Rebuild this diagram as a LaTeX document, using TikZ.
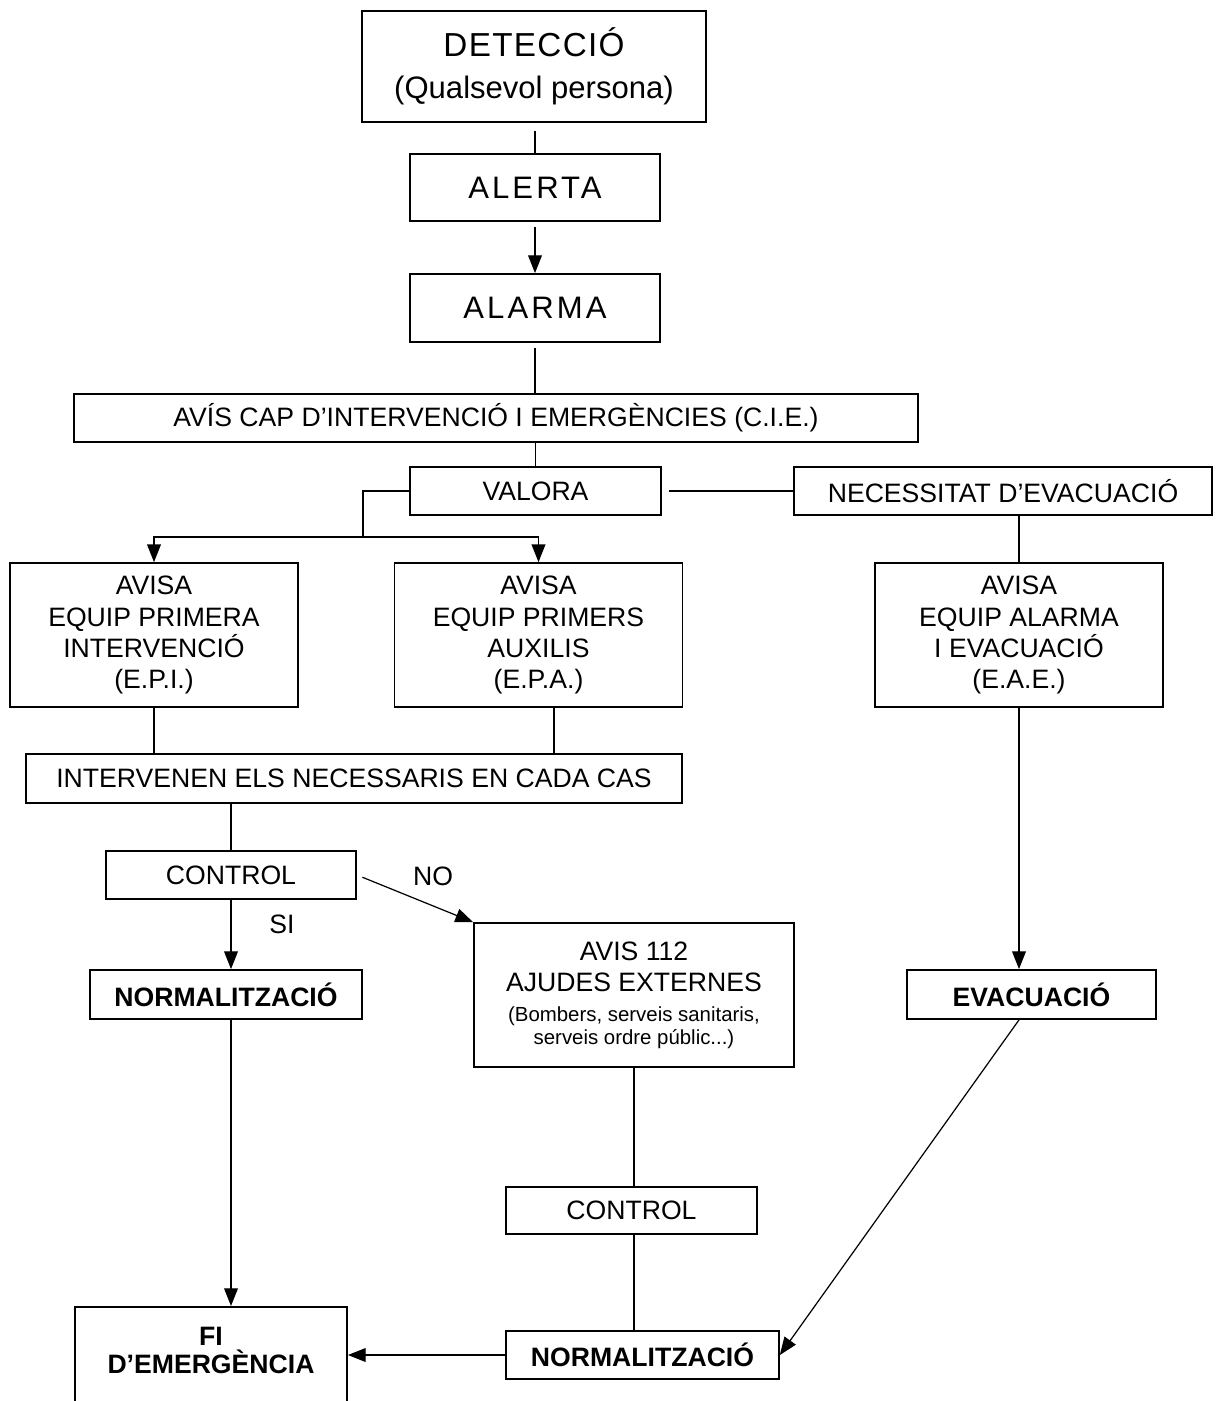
\documentclass[tikz,border=0pt]{standalone}
\usepackage{fontspec}
\setmainfont{Liberation Sans}
\newfontfamily\ampla[LetterSpace=10]{Liberation Sans}
\newfontfamily\amplet[LetterSpace=4]{Liberation Sans}
\usetikzlibrary{arrows.meta}

\begin{document}
\begin{tikzpicture}[x=0.451pt, y=-0.451pt, >={Triangle[length=8pt,width=6.2pt]}, line width=0.55pt]
				\tikzstyle{caixa}=[draw, line width=0.8pt, inner sep=0pt, align=center, font=\fontsize{12}{14}\selectfont]
				\tikzstyle{negreta}=[caixa, font=\fontsize{12}{14}\selectfont\bfseries]
				\tikzstyle{etiqueta}=[font=\fontsize{12}{14}\selectfont]
				\useasboundingbox (0,0) rectangle (1220,1401);
				%Columna central
				\node[caixa](det) at (534,66.5) [minimum width=155.1pt, minimum height=50.1pt, font=\fontsize{14}{19}\selectfont]{{\fontsize{15}{19}\amplet DETECCIÓ}\\(Qualsevol persona)};
				\node[caixa](ale) at (535,187.5) [minimum width=112.75pt, minimum height=30.2pt, font=\fontsize{14}{17}\ampla]{ALERTA};
				\node[caixa](ala) at (535,308) [minimum width=112.75pt, minimum height=30.7pt, font=\fontsize{14}{17}\ampla]{ALARMA};
				\node[caixa](cie) at (496,418) [minimum width=380.6pt, minimum height=21.6pt]{AVÍS CAP D’INTERVENCIÓ I EMERGÈNCIES (C.I.E.)};
				\node[caixa](val) at (535.5,491) [minimum width=113.2pt, minimum height=21.6pt]{VALORA};
				\node[caixa](nec) at (1003,491) [minimum width=188.5pt, minimum height=21.6pt]{NECESSITAT D’EVACUACIÓ};
				%Equips
				\node[caixa](epi) at (154,635) [minimum width=129.9pt, minimum height=64.9pt]{AVISA\\EQUIP PRIMERA\\INTERVENCIÓ\\(E.P.I.)};
				\node[caixa](epa) at (538.5,635) [minimum width=129.9pt, minimum height=64.9pt]{AVISA\\EQUIP PRIMERS\\AUXILIS\\(E.P.A.)};
				\node[caixa](eae) at (1019,635) [minimum width=129.9pt, minimum height=64.9pt]{AVISA\\EQUIP ALARMA\\I EVACUACIÓ\\(E.A.E.)};
				\node[caixa](int) at (354,778.5) [minimum width=295.9pt, minimum height=22.1pt]{INTERVENEN ELS NECESSARIS EN CADA CAS};
				%Control
				\node[caixa](con1) at (231,875) [minimum width=112.75pt, minimum height=21.6pt]{CONTROL};
				\node[caixa](ajud) at (634,995) [minimum width=144.3pt, minimum height=64.9pt]{AVIS 112\\AJUDES EXTERNES\\[-0.5pt]{\fontsize{9.2}{10.5}\selectfont (Bombers, serveis sanitaris,}\\[-3.6pt]{\fontsize{9.2}{10.5}\selectfont serveis ordre públic...)}};
				\node[negreta](nor1) at (226,994.5) [minimum width=122.7pt, minimum height=22.1pt]{NORMALITZACIÓ};
				\node[negreta](eva) at (1031.5,994.5) [minimum width=112.3pt, minimum height=22.1pt]{EVACUACIÓ};
				\node[caixa](con2) at (631.5,1210.5) [minimum width=113.2pt, minimum height=21.2pt]{CONTROL};
				\node[negreta](nor2) at (642.5,1355) [minimum width=123.1pt, minimum height=21.6pt]{NORMALITZACIÓ};
				\node[negreta](fi) at (211,1306) [anchor=north, minimum width=122.7pt, inner ysep=9pt, text depth=60pt]{FI\\[-1.2pt]D’EMERGÈNCIA};
				\node[etiqueta](si) at (282,924) {SI};
				\node[etiqueta](no) at (433,876) {NO};
				\coordinate (bif) at (363,537);
				%Connexions
				\draw[shorten <=3.6pt] (ale.north |- det.south) -- (ale.north);
				\draw[->, shorten <=2.3pt] (ale.south) -- (ala.north);
				\draw[shorten <=2.3pt] (ala.south) -- (ala.south |- cie.north);
				\draw (val.north |- cie.south) -- (val.north);
				\draw (val.west) -| (bif);
				\draw[->] (bif) -| (epi.north);
				\draw[->] (bif) -| (epa.north);
				\draw[shorten <=3.2pt] (val.east) -- (nec.west);
				\draw (eae.north |- nec.south) -- (eae.north);
				\draw (epi.south) -- (epi.south |- int.north);
				\draw ([xshift=7pt]epa.south) -- ([xshift=7pt]epa.south |- int.north);
				\draw (con1.north |- int.south) -- (con1.north);
				\draw[->] (con1.south) -- (con1.south |- nor1.north);
				\draw[->, shorten <=2.7pt] (con1.east) -- (ajud.north west);
				\draw[->] (eae.south) -- (eae.south |- eva.north);
				\draw[->] (con1.south |- nor1.south) -- (con1.south |- fi.north);
				\draw (ajud.south) -- (ajud.south |- con2.north);
				\draw (ajud.south |- con2.south) -- (ajud.south |- nor2.north);
				\draw[->] (nor2.west) -- (nor2.west -| fi.east);
				\draw[->] (eae.south |- eva.south) -- (nor2.east);
\end{tikzpicture}
\end{document}
